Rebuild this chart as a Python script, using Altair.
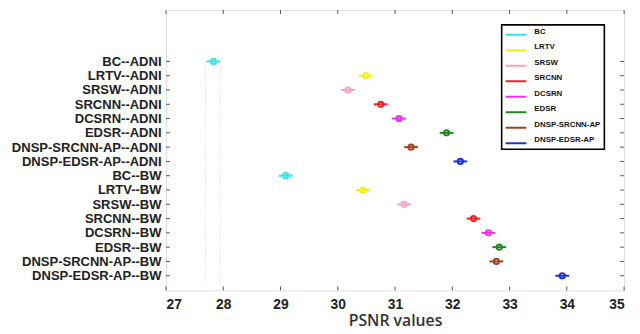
import altair as alt
import pandas as pd

methods = ["BC", "LRTV", "SRSW", "SRCNN", "DCSRN", "EDSR", "DNSP-SRCNN-AP", "DNSP-EDSR-AP"]
colors = ["#2EE6E6", "#F2F20A", "#F4A3C3", "#EE2222", "#EE30EE", "#1E8A1E", "#A0401E", "#1A2EE0"]
datasets = ["ADNI", "BW"]
psnr_adni = [27.83, 30.49, 30.18, 30.75, 31.07, 31.90, 31.28, 32.14]
psnr_bw = [29.09, 30.44, 31.16, 32.37, 32.63, 32.82, 32.77, 33.92]
half_width = 0.12
ref_interval = [27.69, 27.95]
x_ticks = [27, 28, 29, 30, 31, 32, 33, 34, 35]

W, H = 464, 284

rows = []
for ds, vals in zip(datasets, [psnr_adni, psnr_bw]):
    for m, c, v in zip(methods, colors, vals):
        rows.append({"label": f"{m}--{ds}", "method": m, "color": c, "v": v,
                     "lo": v - half_width, "hi": v + half_width})
df = pd.DataFrame(rows)
df["pos"] = range(len(df))
labels = list(df["label"])
positions = list(df["pos"])
label_expr = "[" + ",".join("'%s'" % l for l in labels) + "][datum.value]"

yscale = alt.Scale(domain=[-3.594, 16.03], reverse=True, nice=False, zero=False)
xscale = alt.Scale(domain=[27, 35], nice=False, zero=False)
cscale = alt.Scale(domain=methods, range=colors)

base = alt.Chart(df)

bars = base.mark_rule(strokeWidth=2).encode(
    x=alt.X("lo:Q", scale=xscale,
            axis=alt.Axis(values=x_ticks, format="d", ticks=False, grid=False, domain=False,
                          labelFont="Liberation Sans", labelFontWeight="bold",
                          labelFontSize=14, labelColor="#222", labelPadding=7,
                          title="PSNR values", titleFont="Open Sans",
                          titleFontSize=16, titleFontWeight=600,
                          titleColor="#333", titlePadding=1)),
    x2="hi:Q",
    y=alt.Y("pos:Q", scale=yscale,
            axis=alt.Axis(values=positions, labelExpr=label_expr, ticks=False, grid=False,
                          domain=False, title=None,
                          labelFont="Liberation Sans", labelFontWeight="bold",
                          labelFontSize=13.2, labelColor="#222", labelPadding=5)),
    color=alt.Color("method:N", scale=cscale, legend=None),
)

pts = base.mark_point(filled=False, strokeWidth=2, size=28, opacity=1).encode(
    x=alt.X("v:Q", scale=xscale),
    y=alt.Y("pos:Q", scale=yscale, axis=None),
    color=alt.Color("method:N", scale=cscale, legend=None),
)

ref_df = pd.DataFrame({"x": ref_interval, "y1": [positions[0]] * 2, "y2": [positions[-1] + 0.4] * 2})
ref_lines = alt.Chart(ref_df).mark_rule(color="#D8D8D8", strokeDash=[1, 2], strokeWidth=1).encode(
    x=alt.X("x:Q", scale=xscale),
    y=alt.Y("y1:Q", scale=yscale, axis=None), y2="y2:Q"
)

# inward ticks
xt = pd.DataFrame({"t": x_ticks})
xticks_b = alt.Chart(xt).mark_rule(color="#555").encode(
    x=alt.X("t:Q", scale=xscale), y=alt.value(H), y2=alt.value(H - 4))
xticks_t = alt.Chart(xt).mark_rule(color="#555").encode(
    x=alt.X("t:Q", scale=xscale), y=alt.value(0), y2=alt.value(4))
yt = pd.DataFrame({"p": positions})
yticks_l = alt.Chart(yt).mark_rule(color="#555").encode(
    y=alt.Y("p:Q", scale=yscale, axis=None), x=alt.value(0), x2=alt.value(4))
yticks_r = alt.Chart(yt).mark_rule(color="#555").encode(
    y=alt.Y("p:Q", scale=yscale, axis=None), x=alt.value(W), x2=alt.value(W - 4))

# custom legend
leg_df = pd.DataFrame({"method": methods, "i": list(range(len(methods)))})
leg_df["ly"] = 25 + leg_df["i"] * 15.7
leg_df["ty"] = leg_df["ly"] - 3
leg_box = alt.Chart(pd.DataFrame({"a": [0]})).mark_rect(
    fill="white", stroke="black", strokeWidth=1.6).encode(
    x=alt.value(340), x2=alt.value(444), y=alt.value(15), y2=alt.value(141))
leg_lines = alt.Chart(leg_df).mark_rule(strokeWidth=2).encode(
    x=alt.value(344), x2=alt.value(365),
    y=alt.Y("ly:Q", scale=None, axis=None),
    color=alt.Color("method:N", scale=cscale, legend=None))
leg_text = alt.Chart(leg_df).mark_text(
    align="left", baseline="middle", font="Liberation Sans", fontWeight="bold",
    fontSize=8, color="#111").encode(
    x=alt.value(373), y=alt.Y("ty:Q", scale=None, axis=None), text="method:N")

chart = alt.layer(
    bars, ref_lines, pts, xticks_b, xticks_t, yticks_l, yticks_r,
    leg_box, leg_lines, leg_text
).resolve_scale(y="independent").properties(
    width=W, height=H,
    autosize=alt.AutoSizeParams(type="none"),
    padding={"left": 160, "top": 0, "right": 8, "bottom": 40},
).configure_view(stroke="#777", strokeWidth=1).configure(background="white")

chart.save("out.html", embed_options={"renderer": "svg", "actions": False})
